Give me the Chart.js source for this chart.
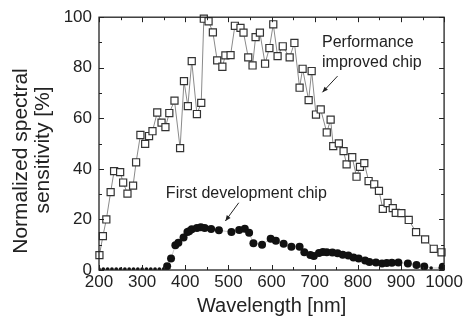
<!DOCTYPE html>
<html>
<head>
<meta charset="utf-8">
<script src="https://cdn.jsdelivr.net/npm/chart.js@4.4.0/dist/chart.umd.min.js"></script>
<style>
  html, body { margin: 0; padding: 0; background: #fff; }
  #wrap { width: 465px; height: 323px; }
</style>
</head>
<body>
<div id="wrap"><canvas id="chart" width="465" height="323"></canvas></div>
<script>
// Performance improved chip (open squares)
const improvedWl = [201, 209, 217, 227, 235, 249, 256, 266, 279, 286, 296, 307, 316, 324, 335,
    345, 354, 363, 375, 388, 397, 406, 415, 427, 437, 443, 454, 464, 474, 486, 493, 505, 515,
    528, 535, 546, 556, 563, 573, 585, 595, 604, 614, 626, 642, 653, 665, 672, 686, 693, 703,
    714, 728, 737, 743, 756, 767, 774, 787, 797, 805, 815, 825, 838, 849, 858, 869, 881, 888,
    901, 918, 935, 956, 976, 994];
const improvedVal = [5.9, 13.4, 20.0, 30.8, 39.1, 38.7, 34.6, 30.2, 33.4, 42.6, 53.4, 49.9, 53.0,
    54.9, 62.3, 58.3, 56.5, 62.1, 67.0, 48.2, 74.7, 64.8, 82.6, 61.7, 66.1, 99.4, 98.4, 94.0, 82.9,
    80.4, 84.9, 85.0, 96.6, 95.8, 93.9, 84.1, 80.9, 92.1, 93.9, 81.6, 87.8, 97.2, 84.6, 88.5, 84.1,
    89.8, 72.1, 79.6, 67.2, 78.7, 61.5, 63.5, 54.4, 59.5, 49.0, 50.1, 47.0, 41.8, 44.6, 36.9, 40.8,
    42.3, 35.2, 33.9, 31.3, 24.2, 26.5, 24.5, 22.6, 22.5, 19.8, 15.0, 12.1, 8.4, 7.0];

// First development chip (filled circles)
const firstWl = [200, 210, 220, 230, 240, 250, 260, 270, 280, 290, 300, 310, 320, 330, 340, 350,
    358, 367, 377, 384, 396, 405, 409, 415, 427, 436, 445, 460, 478, 507, 525, 538, 548, 558,
    578, 598, 610, 628, 646, 665, 676, 690, 698, 710, 719, 728, 741, 753, 765, 778, 790, 802,
    817, 827, 842, 856, 867, 879, 894, 916, 936, 954, 970, 991, 997];
const firstVal = [0.4, 0.4, 0.4, 0.4, 0.4, 0.4, 0.4, 0.4, 0.4, 0.4, 0.4, 0.4, 0.4, 0.4, 0.4, 0.5,
    1.5, 4.5, 9.8, 10.8, 12.9, 15.0, 15.3, 16.1, 16.6, 16.9, 16.6, 16.2, 15.7, 15.0, 15.8, 16.3,
    14.7, 10.6, 10.0, 12.4, 11.6, 10.4, 9.2, 9.2, 7.0, 5.9, 5.5, 6.7, 7.1, 7.0, 6.9, 6.6, 6.0,
    5.7, 4.9, 4.5, 3.8, 3.2, 3.0, 2.6, 2.8, 2.9, 3.0, 2.6, 2.0, 1.4, 0.8, 0.8, 1.3];

const xTicks = [200, 300, 400, 500, 600, 700, 800, 900, 1000];
const yTicks = [0, 20, 40, 60, 80, 100];

const FONT = '"Liberation Sans", Arial, sans-serif';
const INK = '#222';

const toPoints = (xs, ys) => xs.map((v, i) => ({ x: v, y: ys[i] }));

// frame with inward ticks on all four sides, y title, and the two labels with arrows
const framePlugin = {
    id: 'frame',
    afterDatasetsDraw(chart) {
        const { ctx, chartArea: a, scales: { x, y } } = chart;
        ctx.save();
        ctx.strokeStyle = INK;
        ctx.lineWidth = 1.3;
        ctx.strokeRect(a.left, a.top, a.right - a.left, a.bottom - a.top);

        ctx.lineWidth = 1;
        ctx.beginPath();
        for (let v = xTicks[0]; v <= xTicks[xTicks.length - 1]; v += 50) {
            const len = v % 100 === 0 ? 5 : 3;
            const px = Math.round(x.getPixelForValue(v)) + 0.5;
            ctx.moveTo(px, a.bottom); ctx.lineTo(px, a.bottom - len);
            ctx.moveTo(px, a.top); ctx.lineTo(px, a.top + len);
        }
        for (let v = yTicks[0]; v <= yTicks[yTicks.length - 1]; v += 10) {
            const len = v % 20 === 0 ? 5 : 3;
            const py = Math.round(y.getPixelForValue(v)) + 0.5;
            ctx.moveTo(a.left, py); ctx.lineTo(a.left + len, py);
            ctx.moveTo(a.right, py); ctx.lineTo(a.right - len, py);
        }
        ctx.stroke();

        // y axis title, two centred lines
        ctx.fillStyle = INK;
        ctx.font = '21px ' + FONT;
        ctx.textAlign = 'center';
        ctx.textBaseline = 'middle';
        ctx.save();
        ctx.translate(21, 161);
        ctx.rotate(-Math.PI / 2);
        ctx.fillText('Normalized spectral', 0, 0);
        ctx.restore();
        ctx.save();
        ctx.translate(43, 150);
        ctx.rotate(-Math.PI / 2);
        ctx.fillText('sensitivity [%]', 0, 0);
        ctx.restore();

        // annotations
        ctx.font = '16px ' + FONT;
        ctx.textAlign = 'left';
        ctx.fillText('Performance', x.getPixelForValue(717), y.getPixelForValue(89.8));
        ctx.fillText('improved chip', x.getPixelForValue(717), y.getPixelForValue(81.9));
        ctx.fillText('First development chip', x.getPixelForValue(355), y.getPixelForValue(30.4));

        drawArrow(ctx, x.getPixelForValue(753), y.getPixelForValue(76.7),
            x.getPixelForValue(718), y.getPixelForValue(70.3));
        drawArrow(ctx, x.getPixelForValue(524), y.getPixelForValue(26.6),
            x.getPixelForValue(493), y.getPixelForValue(19.4));
        ctx.restore();
    }
};

function drawArrow(ctx, x1, y1, x2, y2) {
    const ang = Math.atan2(y2 - y1, x2 - x1);
    ctx.strokeStyle = INK;
    ctx.lineWidth = 1;
    ctx.beginPath();
    ctx.moveTo(x1, y1);
    ctx.lineTo(x2, y2);
    ctx.stroke();
    ctx.beginPath();
    ctx.moveTo(x2, y2);
    ctx.lineTo(x2 - 6 * Math.cos(ang - 0.4), y2 - 6 * Math.sin(ang - 0.4));
    ctx.lineTo(x2 - 6 * Math.cos(ang + 0.4), y2 - 6 * Math.sin(ang + 0.4));
    ctx.closePath();
    ctx.fill();
}

new Chart(document.getElementById('chart'), {
    type: 'scatter',
    data: {
        datasets: [
            {
                label: 'Performance improved chip',
                data: toPoints(improvedWl, improvedVal),
                showLine: true,
                borderColor: '#8a8a8a',
                borderWidth: 1,
                pointStyle: 'rect',
                pointRadius: 5,
                pointBorderWidth: 1.2,
                pointBorderColor: '#333',
                pointBackgroundColor: '#fff',
                clip: false
            },
            {
                label: 'First development chip',
                data: toPoints(firstWl, firstVal),
                showLine: true,
                borderColor: '#bbb',
                borderWidth: 0.8,
                pointStyle: 'circle',
                pointRadius: c => (c.raw && c.raw.y < 1 ? 1.8 : 4),
                pointBorderWidth: 0,
                pointBackgroundColor: '#111'
            }
        ]
    },
    options: {
        animation: false,
        responsive: false,
        devicePixelRatio: 1,
        layout: { padding: { top: 17, right: 20, left: 0, bottom: 0 } },
        plugins: { legend: { display: false }, tooltip: { enabled: false } },
        scales: {
            x: {
                type: 'linear',
                min: 200,
                max: 1000,
                afterFit: s => { s.height = 53; },
                afterBuildTicks: s => { s.ticks = xTicks.map(v => ({ value: v })); },
                grid: { display: false, drawTicks: false },
                border: { display: false },
                ticks: {
                    color: INK,
                    font: { family: FONT, size: 17 },
                    padding: 2,
                    maxRotation: 0,
                    autoSkip: false,
                    callback: v => String(v)
                },
                title: {
                    display: true,
                    text: 'Wavelength [nm]',
                    color: INK,
                    font: { family: FONT, size: 20 },
                    padding: { top: 0, bottom: 5 }
                }
            },
            y: {
                min: 0,
                max: 100,
                afterFit: s => { s.width = 99; },
                afterBuildTicks: s => { s.ticks = yTicks.map(v => ({ value: v })); },
                grid: { display: false, drawTicks: false },
                border: { display: false },
                ticks: { color: INK, font: { family: FONT, size: 17 }, padding: 7, autoSkip: false },
                title: { display: false }
            }
        }
    },
    plugins: [framePlugin]
});
</script>
</body>
</html>
